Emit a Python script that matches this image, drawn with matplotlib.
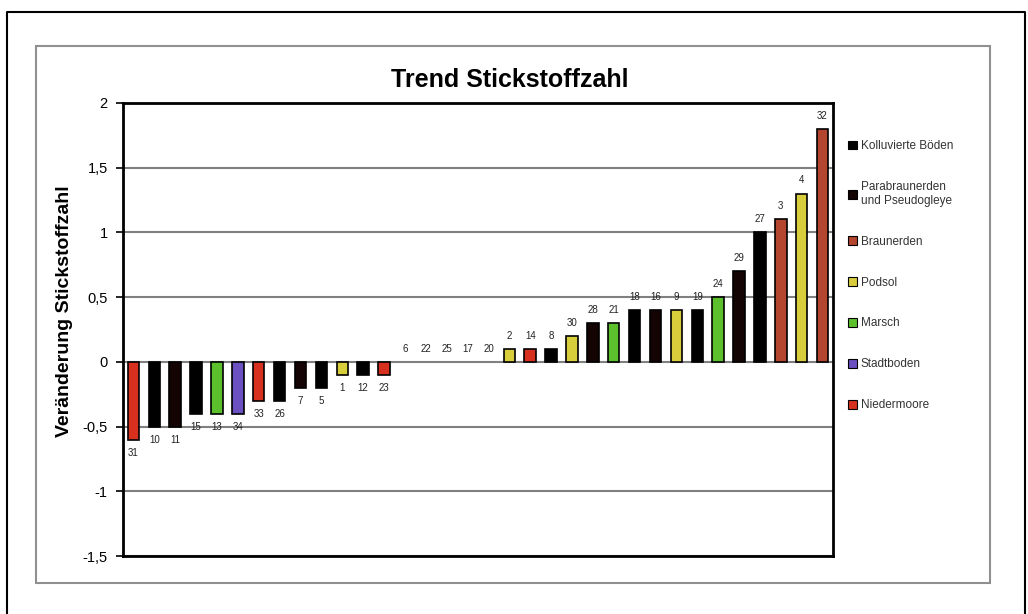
import matplotlib
matplotlib.use('Agg')
from matplotlib import pyplot as plt
from matplotlib.patches import Patch, Rectangle
from matplotlib.lines import Line2D
from matplotlib.ticker import FuncFormatter

# sample numbers (bar labels), in plotted order
samples = ['31', '10', '11', '15', '13', '34', '33', '26', '7', '5', '1', '12', '23',
           '6', '22', '25', '17', '20',
           '2', '14', '8', '30', '28', '21', '18', '16', '9', '19', '24', '29', '27', '3', '4', '32']
values = [-0.6, -0.5, -0.5, -0.4, -0.4, -0.4, -0.3, -0.3, -0.2, -0.2, -0.1, -0.1, -0.1,
          0, 0, 0, 0, 0,
          0.1, 0.1, 0.1, 0.2, 0.3, 0.3, 0.4, 0.4, 0.4, 0.4, 0.5, 0.7, 1.0, 1.1, 1.3, 1.8]
soil = ['Niedermoore', 'Kolluvierte Böden', 'Parabraunerden\nund Pseudogleye', 'Kolluvierte Böden',
        'Marsch', 'Stadtboden', 'Niedermoore', 'Kolluvierte Böden', 'Parabraunerden\nund Pseudogleye',
        'Kolluvierte Böden', 'Podsol', 'Kolluvierte Böden', 'Niedermoore',
        'Kolluvierte Böden', 'Kolluvierte Böden', 'Kolluvierte Böden', 'Kolluvierte Böden', 'Kolluvierte Böden',
        'Podsol', 'Niedermoore', 'Kolluvierte Böden', 'Podsol', 'Parabraunerden\nund Pseudogleye',
        'Marsch', 'Kolluvierte Böden', 'Parabraunerden\nund Pseudogleye', 'Podsol', 'Kolluvierte Böden',
        'Marsch', 'Parabraunerden\nund Pseudogleye', 'Kolluvierte Böden', 'Braunerden', 'Podsol', 'Braunerden']

legend_names = ['Kolluvierte Böden', 'Parabraunerden\nund Pseudogleye', 'Braunerden',
                'Podsol', 'Marsch', 'Stadtboden', 'Niedermoore']
legend_colors = ['#000000', '#140404', '#B4452E', '#D8CE3C', '#5CC02C', '#6A50C0', '#D8301E']
color_of = dict(zip(legend_names, legend_colors))

plt.rcParams['font.family'] = ['Liberation Sans', 'DejaVu Sans']

fig = plt.figure(figsize=(10.28, 6.14), dpi=100)
ax = fig.add_axes([123 / 1028, 1 - 556 / 614, 710 / 1028, 453 / 614])

x = list(range(len(values)))
bar_colors = [color_of[s] for s in soil]
edge_w = [1.2 if v != 0 else 0 for v in values]
bars = ax.bar(x, values, width=0.55, color=bar_colors, edgecolor='black', linewidth=edge_w, zorder=3)
ax.bar_label(bars, labels=samples, padding=6, fontsize=7, color='#222222')

ax.set_xlim(-0.5, len(values) - 0.5)
ax.set_ylim(-1.5, 2)
ax.set_yticks([-1.5, -1, -0.5, 0, 0.5, 1, 1.5, 2])
ax.yaxis.set_major_formatter(FuncFormatter(lambda v, p: ('%g' % v).replace('.', ',')))
ax.tick_params(axis='y', labelsize=10.5, length=5, width=1.2, direction='out', pad=6)
ax.set_xticks([])
ax.grid(axis='y', color='#808080', linewidth=1.5, zorder=0)
for s in ax.spines.values():
    s.set_linewidth(2)
    s.set_color('black')

ax.set_ylabel('Veränderung Stickstoffzahl', fontsize=14, fontweight='bold')
ax.yaxis.set_label_coords(-0.07, 0.54)
fig.text(510 / 1028, 1 - 80 / 614, 'Trend Stickstoffzahl', fontsize=18, fontweight='bold',
         ha='center', va='center')

handles = [Patch(facecolor=c, edgecolor='black', linewidth=0.8) for c in legend_colors]
fig.legend(handles, legend_names, loc='upper left', bbox_to_anchor=(848 / 1028, 1 - 140 / 614),
           frameon=False, fontsize=8.5, labelspacing=2.45, handlelength=0.75, handleheight=0.75,
           handletextpad=0.35, borderpad=0, borderaxespad=0, labelcolor='#333333')

# inner chart frame and outer border
fig.add_artist(Rectangle((36 / 1028, 1 - 583 / 614), 954 / 1028, 537 / 614, transform=fig.transFigure,
                         fill=False, edgecolor='#909090', linewidth=1.5))
fig.add_artist(Line2D([7 / 1028, 7 / 1028, 1025 / 1028, 1025 / 1028], [0, 1 - 12 / 614, 1 - 12 / 614, 0],
                      transform=fig.transFigure, color='black', linewidth=1.5))

fig.savefig('out.png', dpi=100)
